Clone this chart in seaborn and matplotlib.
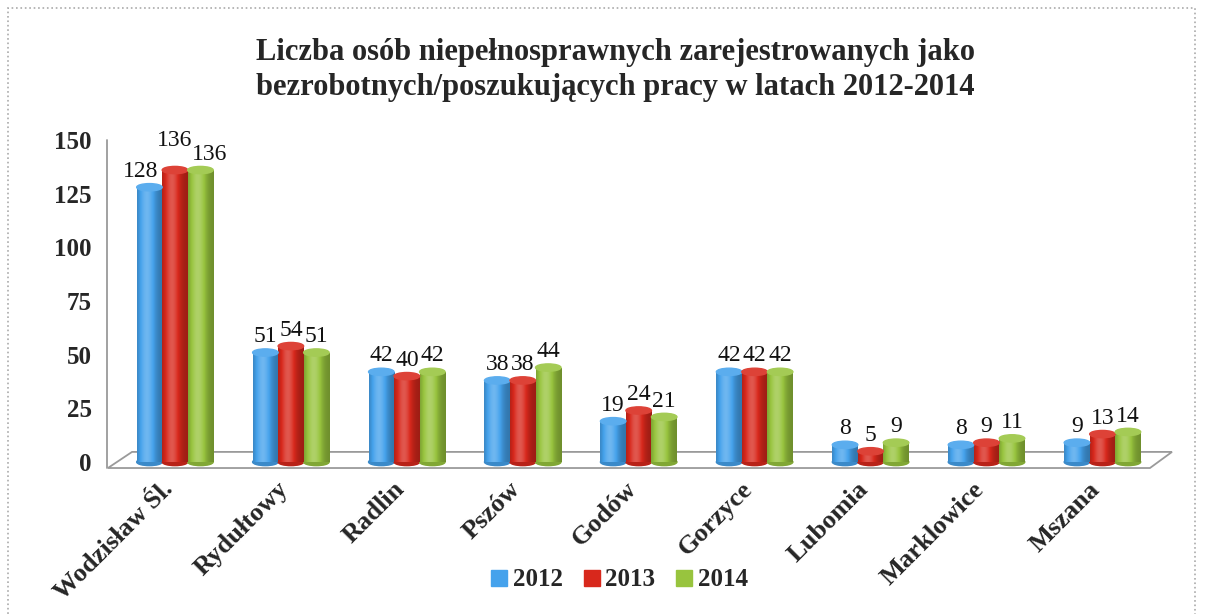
import numpy as np
import pandas as pd
import matplotlib
matplotlib.use("Agg")
import matplotlib.pyplot as plt
import seaborn as sns
from matplotlib.patches import Ellipse, Polygon, Rectangle
from matplotlib.colors import to_rgb
from matplotlib.lines import Line2D
from matplotlib.transforms import ScaledTranslation

# ---- data ----
gminy = ["Wodzisław Śl.", "Rydułtowy", "Radlin", "Pszów", "Godów",
         "Gorzyce", "Lubomia", "Marklowice", "Mszana"]
lata = ["2012", "2013", "2014"]
v2012 = [128, 51, 42, 38, 19, 42, 8, 8, 9]
v2013 = [136, 54, 40, 38, 24, 42, 5, 9, 13]
v2014 = [136, 51, 42, 44, 21, 42, 9, 11, 14]
yticks = [0, 25, 50, 75, 100, 125, 150]
title = ("Liczba osób niepełnosprawnych zarejestrowanych jako\n"
         "bezrobotnych/poszukujących pracy w latach 2012-2014")

colors = ["#45a2ec", "#d8281c", "#98c43e"]

sns.set_theme(style="white")
plt.rcParams["font.family"] = ["Liberation Serif", "DejaVu Serif"]

df = pd.DataFrame({
    "gmina": gminy * 3,
    "rok": np.repeat(lata, len(gminy)),
    "value": v2012 + v2013 + v2014,
})

fig = plt.figure(figsize=(12.09, 6.14), dpi=100)
ax = fig.add_axes([107 / 1209, 1 - 462 / 614, 1065 / 1209, 322 / 614])
sns.barplot(data=df, x="gmina", y="value", hue="rok", palette=colors,
            width=0.66, saturation=1, errorbar=None, ax=ax)


def shade(rgb, f):
    rgb = np.array(rgb)
    if f <= 1:
        return rgb * f
    return rgb + (1 - rgb) * min(f - 1, 1)


t = np.linspace(0, 1, 64)
prof = 0.72 + 0.5 * np.exp(-((t - 0.38) / 0.32) ** 2)

eh = 3.4
nhue = len(ax.containers)
for i, cont in enumerate(ax.containers):
    base = to_rgb(colors[i])
    grad = np.array([[shade(base, f) for f in prof]])
    for j, (bar, val) in enumerate(zip(cont, cont.datavalues)):
        x0 = bar.get_x(); w = bar.get_width(); h = bar.get_height()
        bar.set_edgecolor("none")
        bar.set_zorder(2)
        ax.add_patch(Ellipse((x0 + w / 2, 0), w, eh, color=shade(base, 0.85),
                             zorder=1.9, clip_on=False))
        im = ax.imshow(grad, extent=[x0, x0 + w, 0, h], aspect="auto",
                       zorder=2.1, interpolation="bilinear")
        im.set_clip_path(bar)
        ax.add_patch(Ellipse((x0 + w / 2, h), w, eh, color=shade(base, 1.12),
                             zorder=2.2, clip_on=False))
        # avoid collisions of wide (3-digit) labels: spread outer, raise middle
        dx, dy = 0, 0
        group_max = max(v2012[j], v2013[j], v2014[j])
        if group_max >= 100:
            dx = (i - (nhue - 1) / 2) * 9
            dy = 14 if i == 1 else 0
        ax.annotate(f"{int(val)}", (x0 + w / 2, h + 2.5), xytext=(dx, dy),
                    textcoords="offset pixels", ha="center", va="bottom",
                    fontsize=17, color="#111111", zorder=4)

# floor and wall
gray = "#9a9a9a"
ax.add_patch(Polygon([(-0.37, 4.7), (8.6, 4.7), (8.41, -2.8), (-0.578, -2.8)],
                     closed=True, fc="white", ec=gray, lw=1.3, zorder=0.5,
                     clip_on=False))
ax.plot([-0.586, -0.586], [-2.8, 150], color=gray, lw=1.3, clip_on=False,
        zorder=0.6)

ax.set_xlim(-0.586, 8.6)
ax.set_ylim(0, 150)
ax.set_yticks(yticks)
ax.set_yticklabels([str(v) for v in yticks], fontsize=18, fontweight="bold")
ax.tick_params(axis="y", length=0, pad=11)
ax.tick_params(axis="x", length=0, pad=17)
ax.set_xticks(range(len(gminy)))
ax.set_xticklabels(gminy, rotation=45, ha="right", va="center",
                   rotation_mode="anchor", fontsize=19, fontweight="bold")
shift = ScaledTranslation(-6 / 100, 0, fig.dpi_scale_trans)
for lbl in ax.get_xticklabels():
    lbl.set_transform(lbl.get_transform() + shift)
ax.set_xlabel("")
ax.set_ylabel("")
for s in ax.spines.values():
    s.set_visible(False)

leg = ax.get_legend()
if leg is not None:
    leg.remove()
handles = [Line2D([], [], marker="s", ls="", markersize=12, color=c) for c in colors]
fig.legend(handles, lata, loc="center", bbox_to_anchor=(618 / 1209, 1 - 580 / 614),
           ncol=3, frameon=False, prop={"size": 18, "weight": "bold"},
           handletextpad=0.1, columnspacing=0.7, handlelength=0.9)

fig.text(0.509, 1 - 38 / 614, title, ha="center", va="top", fontsize=22,
         fontweight="bold", linespacing=1.25)

fig.patches.append(Rectangle((8 / 1209, -0.05), 1195 / 1209 - 8 / 1209, 1.05 - 8 / 614,
                             transform=fig.transFigure, fill=False, ec="#aaaaaa",
                             ls=":", lw=1.2))

fig.savefig("out.png", dpi=100)
